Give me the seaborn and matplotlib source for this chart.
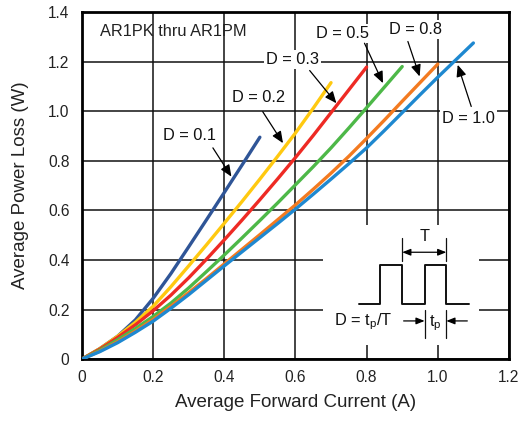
import numpy as np
import pandas as pd
import matplotlib
matplotlib.use("Agg")
import matplotlib.pyplot as plt
import matplotlib.patches as patches
from matplotlib.ticker import FuncFormatter
import seaborn as sns

# Values
x_d01 = [0, 0.05, 0.1, 0.15, 0.2, 0.25, 0.3, 0.35, 0.4, 0.45, 0.5]
y_d01 = [0, 0.042, 0.092, 0.158, 0.245, 0.345, 0.453, 0.562, 0.672, 0.783, 0.895]

x_d02 = [0, 0.05, 0.1, 0.15, 0.2, 0.25, 0.3, 0.35, 0.4, 0.45, 0.5, 0.55, 0.6, 0.65, 0.7]
y_d02 = [0, 0.042, 0.092, 0.148, 0.213, 0.292, 0.376, 0.461, 0.548, 0.636, 0.726, 0.818, 0.912, 1.012, 1.115]

x_d03 = [0, 0.05, 0.1, 0.15, 0.2, 0.25, 0.3, 0.35, 0.4, 0.45, 0.5, 0.55, 0.6, 0.65, 0.7, 0.75, 0.8]
y_d03 = [0, 0.04, 0.087, 0.138, 0.195, 0.258, 0.328, 0.403, 0.481, 0.561, 0.643, 0.727, 0.813, 0.902, 0.994, 1.086, 1.178]

x_d05 = [0, 0.05, 0.1, 0.15, 0.2, 0.25, 0.3, 0.35, 0.4, 0.45, 0.5, 0.55, 0.6, 0.65, 0.7, 0.75, 0.8, 0.85, 0.9]
y_d05 = [0, 0.036, 0.078, 0.123, 0.172, 0.226, 0.287, 0.353, 0.42, 0.489, 0.559, 0.63, 0.703, 0.776, 0.852, 0.932, 1.014, 1.097, 1.18]

x_d08 = [0, 0.05, 0.1, 0.15, 0.2, 0.25, 0.3, 0.35, 0.4, 0.45, 0.5, 0.55, 0.6, 0.65, 0.7, 0.75, 0.8, 0.85, 0.9, 0.95, 1.0]
y_d08 = [0, 0.032, 0.07, 0.113, 0.16, 0.213, 0.268, 0.325, 0.384, 0.443, 0.502, 0.562, 0.622, 0.685, 0.75, 0.818, 0.89, 0.964, 1.04, 1.115, 1.19]

x_d10 = [0, 0.05, 0.1, 0.15, 0.2, 0.25, 0.3, 0.35, 0.4, 0.45, 0.5, 0.55, 0.6, 0.65, 0.7, 0.75, 0.8, 0.85, 0.9, 0.95, 1.0, 1.05, 1.1]
y_d10 = [0, 0.03, 0.066, 0.108, 0.153, 0.205, 0.26, 0.318, 0.376, 0.433, 0.49, 0.547, 0.605, 0.665, 0.726, 0.788, 0.852, 0.922, 0.994, 1.066, 1.137, 1.206, 1.275]

duty_labels = ["D = 0.1", "D = 0.2", "D = 0.3", "D = 0.5", "D = 0.8", "D = 1.0"]
colors = ["#2F5597", "#FFC910", "#EE2A24", "#4DB848", "#F37A20", "#1E88D0"]

x_ticks = [0, 0.2, 0.4, 0.6, 0.8, 1.0, 1.2]
y_ticks = [0, 0.2, 0.4, 0.6, 0.8, 1.0, 1.2, 1.4]

# label position, arrow tail, arrow head (data coords)
label_pos = [(0.303, 0.90), (0.496, 1.055), (0.593, 1.207), (0.733, 1.315), (0.937, 1.328), (1.087, 0.969)]
arrow_tail = [(0.368, 0.852), (0.508, 0.998), (0.64, 1.164), (0.794, 1.274), (0.916, 1.281), (1.094, 1.019)]
arrow_head = [(0.42, 0.736), (0.565, 0.871), (0.715, 1.032), (0.846, 1.113), (0.949, 1.14), (1.056, 1.187)]

# pulse diagram outline
pulse_x = [0.778, 0.839, 0.839, 0.9, 0.9, 0.963, 0.963, 1.024, 1.024, 1.087]
pulse_y = [0.223, 0.223, 0.38, 0.38, 0.223, 0.223, 0.38, 0.38, 0.223, 0.223]

xs = [x_d01, x_d02, x_d03, x_d05, x_d08, x_d10]
ys = [y_d01, y_d02, y_d03, y_d05, y_d08, y_d10]
df = pd.concat([pd.DataFrame({"I": x, "P": y, "D": lab}) for x, y, lab in zip(xs, ys, duty_labels)],
               ignore_index=True)

sns.set_style("white")
plt.rcParams['font.family'] = ['Liberation Sans', 'DejaVu Sans']

fig = plt.figure(figsize=(5.22, 4.21), dpi=100)
ax = fig.add_axes([0.157, 0.147, 0.818, 0.8245])

ax.set_axisbelow(True)
ax.grid(True, color="#111111", lw=1.1)

sns.lineplot(data=df, x="I", y="P", hue="D", palette=colors, lw=2.4, legend=False,
             ax=ax, zorder=3, sort=False)

ax.set_xlim(0, 1.2)
ax.set_ylim(0, 1.4)
ax.set_xticks(x_ticks)
ax.set_yticks(y_ticks)
fmt = FuncFormatter(lambda v, p: "0" if abs(v) < 1e-9 else f"{v:.1f}")
ax.xaxis.set_major_formatter(fmt)
ax.yaxis.set_major_formatter(fmt)
ax.tick_params(axis="x", length=0, pad=8, labelsize=11.2, colors="#222222")
ax.tick_params(axis="y", length=0, pad=9, labelsize=11.2, colors="#222222")
for s in ax.spines.values():
    s.set_color("black")
    s.set_linewidth(2)

ax.set_xlabel("Average Forward Current (A)", fontsize=13.5, labelpad=6, color="#222222")
ax.set_ylabel("Average Power Loss (W)", fontsize=13.5, labelpad=14, color="#222222")

ax.text(0.052, 1.321, "AR1PK thru AR1PM", fontsize=11.8, ha="left", va="center", color="#222222")

for lab, pos, tail, head in zip(duty_labels, label_pos, arrow_tail, arrow_head):
    ax.text(pos[0], pos[1], lab, fontsize=11.8, ha="center", va="center", color="#111111", zorder=4,
            bbox=dict(boxstyle="square,pad=0.12", fc="white", ec="none"))
    ax.annotate("", xy=head, xytext=tail, zorder=5,
                arrowprops=dict(arrowstyle="-|>,head_length=0.7,head_width=0.3", color="black",
                                lw=0.9, shrinkA=0, shrinkB=0))

# inset pulse diagram
ax.add_patch(patches.Rectangle((0.677, 0.058), 0.438, 0.484, fc="white", ec="none", zorder=1))
ax.plot(pulse_x, pulse_y, color="#111111", lw=1.4, zorder=4)
for xv in [0.9, 1.024]:
    ax.plot([xv, xv], [0.394, 0.49], color="#111111", lw=0.9, zorder=4)
for xv in [0.963, 1.024]:
    ax.plot([xv, xv], [0.085, 0.199], color="#111111", lw=0.9, zorder=4)
ax.annotate("", xy=(0.9, 0.431), xytext=(1.024, 0.431),
            arrowprops=dict(arrowstyle="<|-|>,head_length=0.5,head_width=0.2", color="black",
                            lw=0.9, shrinkA=0, shrinkB=0))
ax.annotate("", xy=(0.963, 0.154), xytext=(0.904, 0.154),
            arrowprops=dict(arrowstyle="-|>,head_length=0.5,head_width=0.2", color="black",
                            lw=0.9, shrinkA=0, shrinkB=0))
ax.annotate("", xy=(1.024, 0.154), xytext=(1.083, 0.154),
            arrowprops=dict(arrowstyle="-|>,head_length=0.5,head_width=0.2", color="black",
                            lw=0.9, shrinkA=0, shrinkB=0))
ax.text(0.963, 0.494, "T", fontsize=11.8, ha="center", va="center", color="#111111")
ax.text(0.993, 0.145, r"t$_\mathregular{p}$", fontsize=11.8, ha="center", va="center", color="#111111")
ax.text(0.791, 0.149, r"D = t$_\mathregular{p}$/T", fontsize=11.8, ha="center", va="center", color="#111111")

fig.savefig("out.png", dpi=100)
